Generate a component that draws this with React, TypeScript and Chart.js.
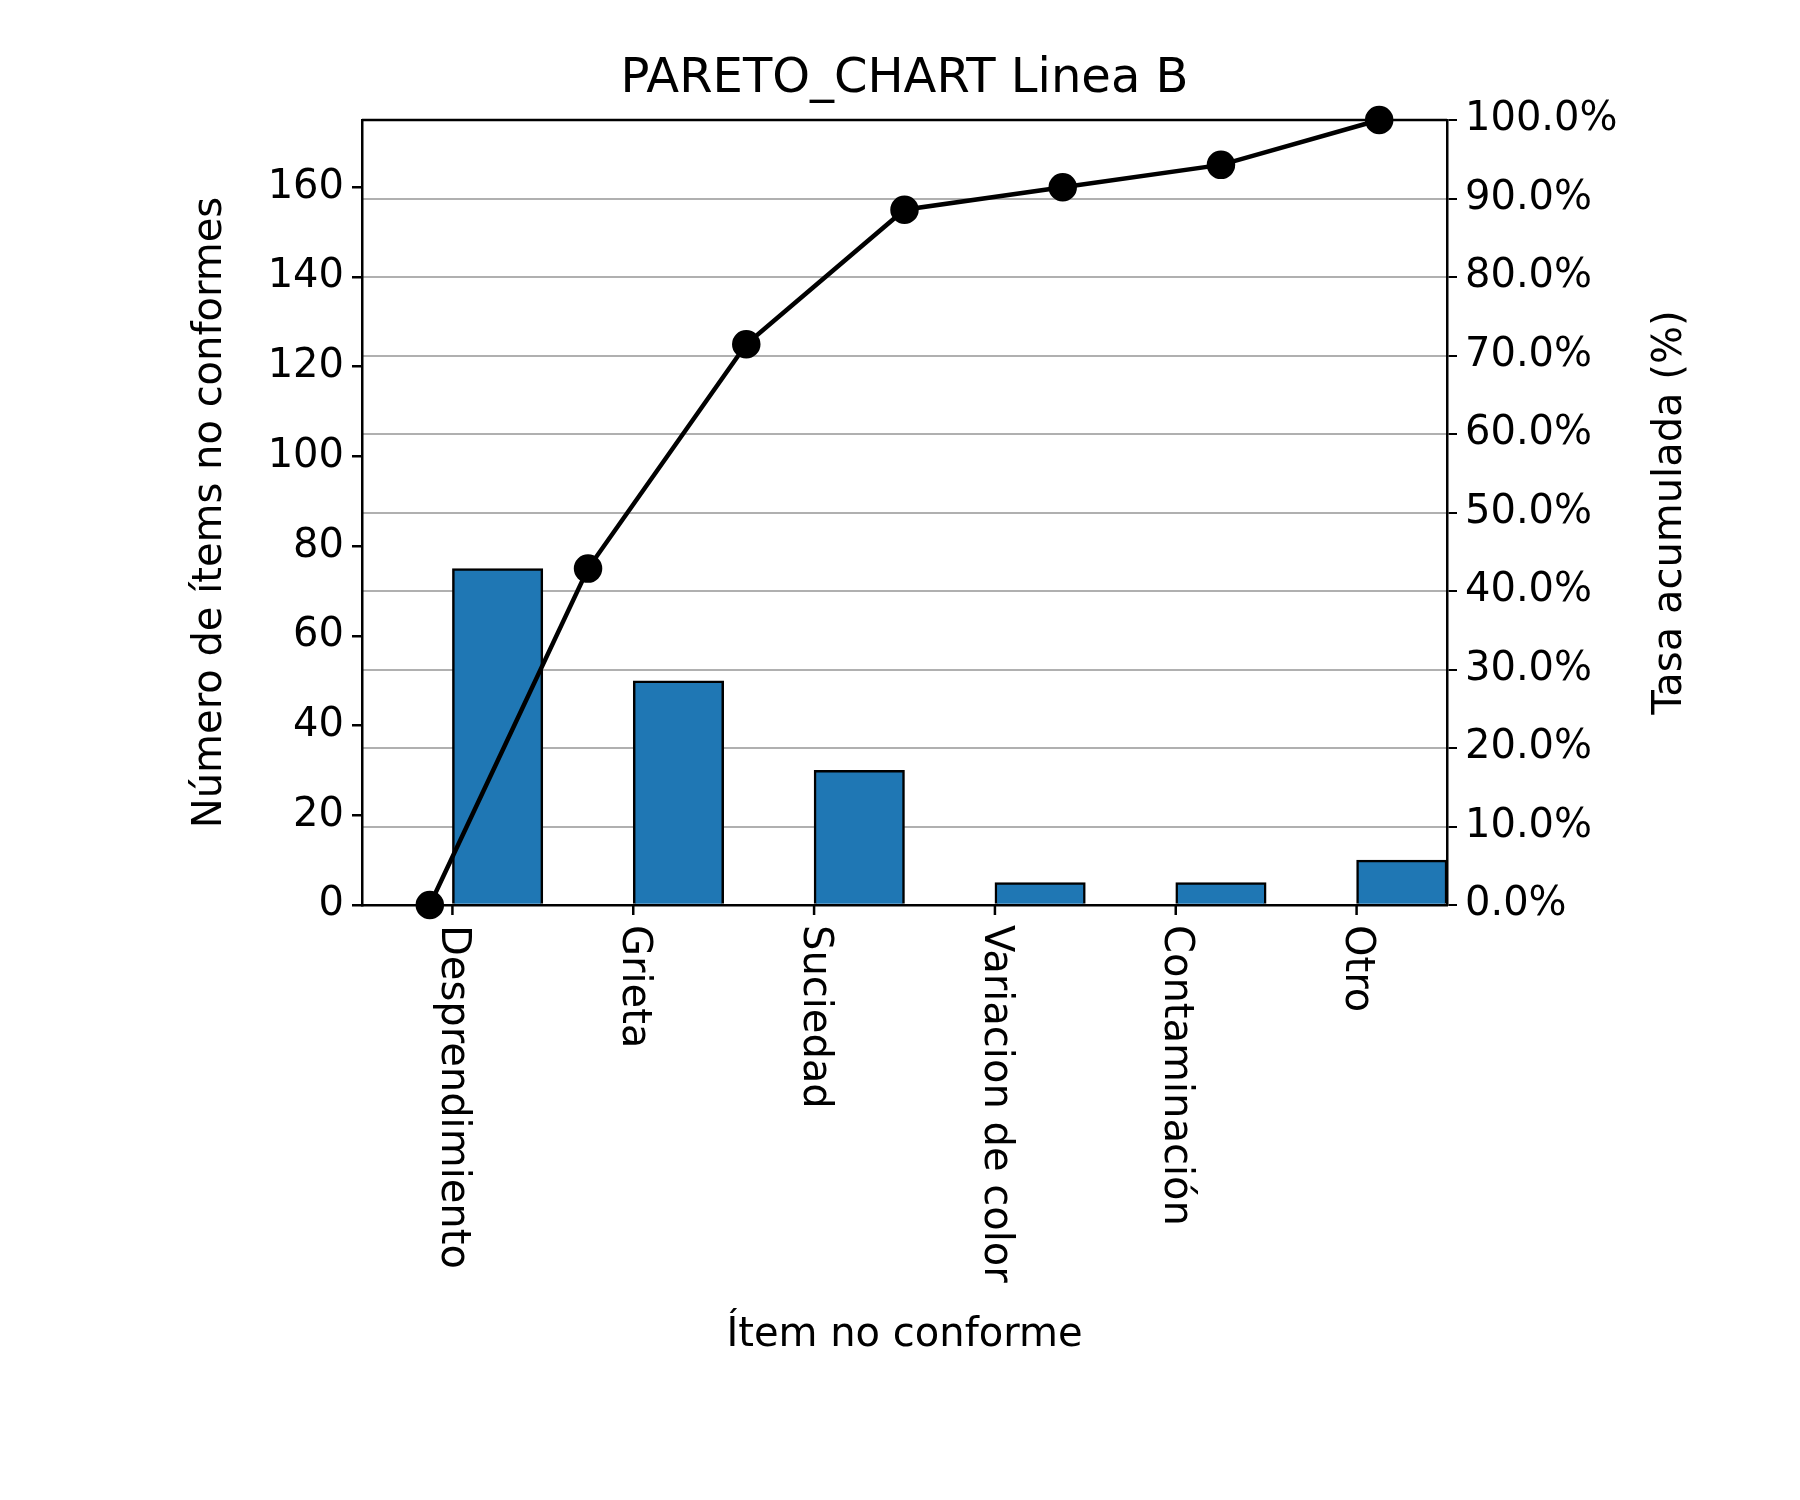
import React, { useEffect, useRef } from "react";
import { Chart, registerables } from "chart.js";
Chart.register(...registerables);

const categories = ["Desprendimiento", "Grieta", "Suciedad", "Variacion de color", "Contaminación", "Otro"];
const counts = [75, 50, 30, 5, 5, 10];
const cumX = [-0.5, 0.5, 1.5, 2.5, 3.5, 4.5, 5.5];
const cumPct = [0, 42.857, 71.429, 88.571, 91.429, 94.286, 100];
const leftTicks = [0, 20, 40, 60, 80, 100, 120, 140, 160];

const F = "'DejaVu Sans', sans-serif";

export default function App() {
  const ref = useRef<HTMLCanvasElement>(null);
  useEffect(() => {
    const total = counts.reduce((a, b) => a + b, 0);
    const deco = {
      id: "deco",
      afterDraw(c: any) {
        const ctx = c.ctx;
        const a = c.chartArea;
        const xs = c.scales.x;
        ctx.save();
        ctx.strokeStyle = "black";
        ctx.lineWidth = 2.5;
        ctx.beginPath();
        ctx.moveTo(a.left, a.top);
        ctx.lineTo(a.right, a.top);
        ctx.stroke();
        ctx.fillStyle = "black";
        ctx.font = `40px ${F}`;
        categories.forEach((lab, i) => {
          const x = xs.getPixelForValue(i);
          ctx.beginPath();
          ctx.moveTo(x, a.bottom);
          ctx.lineTo(x, a.bottom + 10);
          ctx.stroke();
          ctx.save();
          ctx.translate(x, a.bottom + 20);
          ctx.rotate(Math.PI / 2);
          ctx.textAlign = "left";
          ctx.textBaseline = "middle";
          ctx.fillText(lab, 0, 0);
          ctx.restore();
        });
        ctx.textAlign = "center";
        ctx.textBaseline = "middle";
        ctx.font = `40px ${F}`;
        ctx.fillText("Ítem no conforme", (a.left + a.right) / 2, 1328);
        ctx.font = `48px ${F}`;
        ctx.fillText("PARETO_CHART Linea B", (a.left + a.right) / 2, 72);
        ctx.font = `40px ${F}`;
        ctx.save();
        ctx.translate(203, (a.top + a.bottom) / 2);
        ctx.rotate(-Math.PI / 2);
        ctx.fillText("Número de ítems no conformes", 0, 0);
        ctx.restore();
        ctx.save();
        ctx.translate(1663, (a.top + a.bottom) / 2);
        ctx.rotate(-Math.PI / 2);
        ctx.fillText("Tasa acumulada (%)", 0, 0);
        ctx.restore();
        ctx.restore();
      },
    };
    const chart = new Chart(ref.current!, {
      type: "bar",
      data: {
        labels: categories,
        datasets: [
          {
            type: "line",
            data: cumX.map((x, i) => ({ x, y: cumPct[i] })),
            xAxisID: "x2",
            yAxisID: "y2",
            borderColor: "black",
            backgroundColor: "black",
            borderWidth: 4.5,
            pointRadius: 12,
            pointBackgroundColor: "black",
            clip: false as any,
            order: 0,
          } as any,
          {
            type: "bar",
            data: counts,
            xAxisID: "x",
            yAxisID: "y",
            backgroundColor: "#1f77b4",
            borderColor: "black",
            borderWidth: 2.5,
            barPercentage: 1,
            categoryPercentage: 1,
            order: 1,
          } as any,
        ],
      },
      options: {
        animation: false,
        responsive: false,
        layout: { padding: { top: 112, left: 0, right: 0, bottom: 0 } },
        plugins: { legend: { display: false }, tooltip: { enabled: false } },
        scales: {
          x: {
            type: "category",
            offset: true,
            grid: { display: false },
            border: { color: "black", width: 2.5 },
            ticks: { display: false },
            afterFit: (s: any) => { s.height = 603; },
          },
          x2: {
            type: "linear",
            display: false,
            min: -0.5,
            max: 5.5,
          },
          y: {
            position: "left",
            min: 0,
            max: total,
            afterBuildTicks: (s: any) => { s.ticks = leftTicks.map((v) => ({ value: v })); },
            grid: { drawOnChartArea: false, tickLength: 10, color: "black", lineWidth: 2.5 },
            border: { color: "black", width: 2.5 },
            ticks: { color: "black", font: { family: F, size: 40 }, padding: 8 },
            afterFit: (s: any) => { s.width = 354; },
          },
          y2: {
            position: "right",
            min: 0,
            max: 100,
            ticks: {
              stepSize: 10,
              color: "black",
              font: { family: F, size: 40 },
              padding: 8,
              callback: (v: any) => Number(v).toFixed(1) + "%",
            },
            grid: { drawOnChartArea: true, color: "#b0b0b0", tickColor: "black", lineWidth: 2, tickLength: 10 },
            border: { color: "black", width: 2.5 },
            afterFit: (s: any) => { s.width = 361; },
          },
        },
      },
      plugins: [deco],
    } as any);
    return () => chart.destroy();
  }, []);
  return (
    <div style={{ width: 1800, height: 1500 }}>
      <canvas ref={ref} width={1800} height={1500} style={{ width: 1800, height: 1500 }} />
    </div>
  );
}
